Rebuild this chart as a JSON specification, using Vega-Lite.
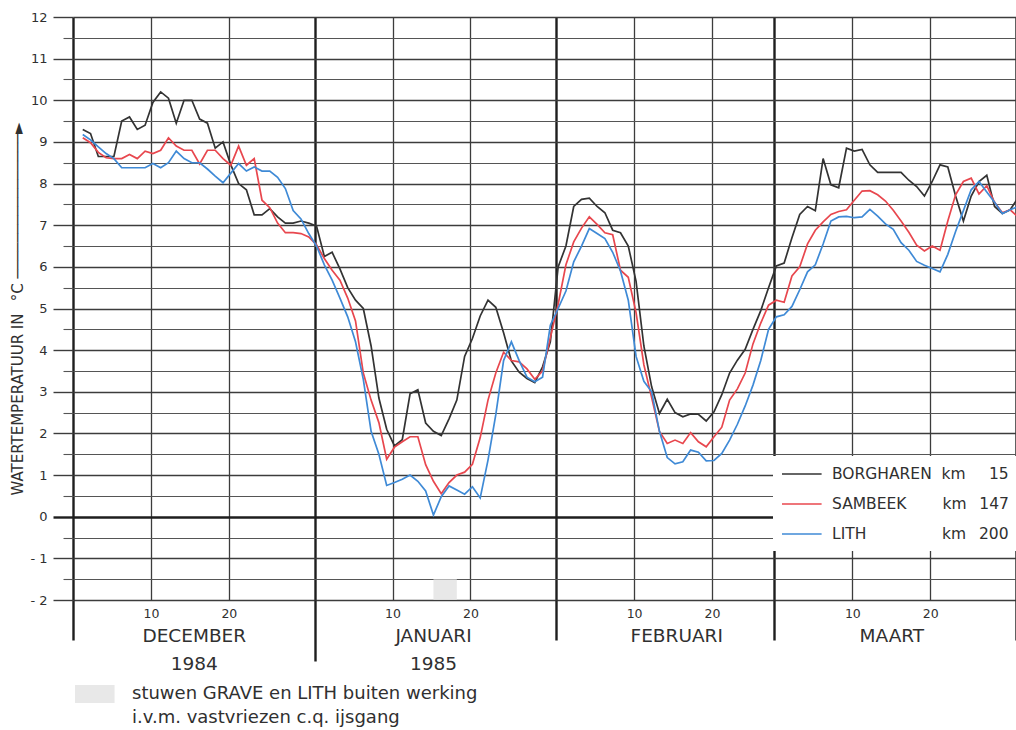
{
  "$schema": "https://vega.github.io/schema/vega-lite/v6.json",
  "width": 943,
  "height": 583,
  "autosize": {"type": "none"},
  "padding": {"left": 73, "top": 17, "right": 0, "bottom": 130},
  "background": "white",
  "config": {
    "view": {"stroke": null},
    "font": "DejaVu Sans",
    "axis": {"labelFont": "DejaVu Sans", "titleFont": "DejaVu Sans", "labelColor": "#303030", "titleColor": "#303030"},
    "legend": {"labelFont": "DejaVu Sans", "labelColor": "#303030"}
  },
  "datasets": {
    "stuw": [{"van": 46, "tot": 49, "note": "stuwen GRAVE en LITH buiten werking"}],
    "temps": [
      {"d":1,"s":"BORGHAREN","t":9.3},{"d":2,"s":"BORGHAREN","t":9.2},{"d":3,"s":"BORGHAREN","t":8.65},{"d":4,"s":"BORGHAREN","t":8.65},{"d":5,"s":"BORGHAREN","t":8.65},{"d":6,"s":"BORGHAREN","t":9.5},{"d":7,"s":"BORGHAREN","t":9.6},{"d":8,"s":"BORGHAREN","t":9.3},{"d":9,"s":"BORGHAREN","t":9.4},{"d":10,"s":"BORGHAREN","t":9.95},
      {"d":11,"s":"BORGHAREN","t":10.2},{"d":12,"s":"BORGHAREN","t":10.05},{"d":13,"s":"BORGHAREN","t":9.45},{"d":14,"s":"BORGHAREN","t":10.0},{"d":15,"s":"BORGHAREN","t":10.0},{"d":16,"s":"BORGHAREN","t":9.55},{"d":17,"s":"BORGHAREN","t":9.45},{"d":18,"s":"BORGHAREN","t":8.85},{"d":19,"s":"BORGHAREN","t":9.0},{"d":20,"s":"BORGHAREN","t":8.45},
      {"d":21,"s":"BORGHAREN","t":8.0},{"d":22,"s":"BORGHAREN","t":7.85},{"d":23,"s":"BORGHAREN","t":7.25},{"d":24,"s":"BORGHAREN","t":7.25},{"d":25,"s":"BORGHAREN","t":7.4},{"d":26,"s":"BORGHAREN","t":7.2},{"d":27,"s":"BORGHAREN","t":7.05},{"d":28,"s":"BORGHAREN","t":7.05},{"d":29,"s":"BORGHAREN","t":7.1},{"d":30,"s":"BORGHAREN","t":7.05},
      {"d":31,"s":"BORGHAREN","t":6.98},{"d":32,"s":"BORGHAREN","t":6.25},{"d":33,"s":"BORGHAREN","t":6.35},{"d":34,"s":"BORGHAREN","t":5.95},{"d":35,"s":"BORGHAREN","t":5.5},{"d":36,"s":"BORGHAREN","t":5.2},{"d":37,"s":"BORGHAREN","t":5.0},{"d":38,"s":"BORGHAREN","t":4.1},{"d":39,"s":"BORGHAREN","t":2.85},{"d":40,"s":"BORGHAREN","t":2.1},
      {"d":41,"s":"BORGHAREN","t":1.7},{"d":42,"s":"BORGHAREN","t":1.85},{"d":43,"s":"BORGHAREN","t":2.95},{"d":44,"s":"BORGHAREN","t":3.05},{"d":45,"s":"BORGHAREN","t":2.25},{"d":46,"s":"BORGHAREN","t":2.05},{"d":47,"s":"BORGHAREN","t":1.95},{"d":48,"s":"BORGHAREN","t":2.35},{"d":49,"s":"BORGHAREN","t":2.8},{"d":50,"s":"BORGHAREN","t":3.85},
      {"d":51,"s":"BORGHAREN","t":4.28},{"d":52,"s":"BORGHAREN","t":4.82},{"d":53,"s":"BORGHAREN","t":5.2},{"d":54,"s":"BORGHAREN","t":5.03},{"d":55,"s":"BORGHAREN","t":4.42},{"d":56,"s":"BORGHAREN","t":3.74},{"d":57,"s":"BORGHAREN","t":3.47},{"d":58,"s":"BORGHAREN","t":3.32},{"d":59,"s":"BORGHAREN","t":3.22},{"d":60,"s":"BORGHAREN","t":3.6},
      {"d":61,"s":"BORGHAREN","t":4.2},{"d":62,"s":"BORGHAREN","t":6.0},{"d":63,"s":"BORGHAREN","t":6.5},{"d":64,"s":"BORGHAREN","t":7.45},{"d":65,"s":"BORGHAREN","t":7.62},{"d":66,"s":"BORGHAREN","t":7.65},{"d":67,"s":"BORGHAREN","t":7.45},{"d":68,"s":"BORGHAREN","t":7.3},{"d":69,"s":"BORGHAREN","t":6.88},{"d":70,"s":"BORGHAREN","t":6.82},
      {"d":71,"s":"BORGHAREN","t":6.5},{"d":72,"s":"BORGHAREN","t":5.65},{"d":73,"s":"BORGHAREN","t":4.1},{"d":74,"s":"BORGHAREN","t":3.12},{"d":75,"s":"BORGHAREN","t":2.48},{"d":76,"s":"BORGHAREN","t":2.82},{"d":77,"s":"BORGHAREN","t":2.5},{"d":78,"s":"BORGHAREN","t":2.4},{"d":79,"s":"BORGHAREN","t":2.47},{"d":80,"s":"BORGHAREN","t":2.46},
      {"d":81,"s":"BORGHAREN","t":2.3},{"d":82,"s":"BORGHAREN","t":2.52},{"d":83,"s":"BORGHAREN","t":2.93},{"d":84,"s":"BORGHAREN","t":3.45},{"d":85,"s":"BORGHAREN","t":3.76},{"d":86,"s":"BORGHAREN","t":4.02},{"d":87,"s":"BORGHAREN","t":4.5},{"d":88,"s":"BORGHAREN","t":4.95},{"d":89,"s":"BORGHAREN","t":5.5},{"d":90,"s":"BORGHAREN","t":6.02},
      {"d":91,"s":"BORGHAREN","t":6.09},{"d":92,"s":"BORGHAREN","t":6.7},{"d":93,"s":"BORGHAREN","t":7.26},{"d":94,"s":"BORGHAREN","t":7.45},{"d":95,"s":"BORGHAREN","t":7.35},{"d":96,"s":"BORGHAREN","t":8.6},{"d":97,"s":"BORGHAREN","t":7.97},{"d":98,"s":"BORGHAREN","t":7.9},{"d":99,"s":"BORGHAREN","t":8.85},{"d":100,"s":"BORGHAREN","t":8.78},
      {"d":101,"s":"BORGHAREN","t":8.82},{"d":102,"s":"BORGHAREN","t":8.45},{"d":103,"s":"BORGHAREN","t":8.27},{"d":104,"s":"BORGHAREN","t":8.27},{"d":105,"s":"BORGHAREN","t":8.27},{"d":106,"s":"BORGHAREN","t":8.27},{"d":107,"s":"BORGHAREN","t":8.08},{"d":108,"s":"BORGHAREN","t":7.93},{"d":109,"s":"BORGHAREN","t":7.7},{"d":110,"s":"BORGHAREN","t":8.05},
      {"d":111,"s":"BORGHAREN","t":8.45},{"d":112,"s":"BORGHAREN","t":8.4},{"d":113,"s":"BORGHAREN","t":7.7},{"d":114,"s":"BORGHAREN","t":7.1},{"d":115,"s":"BORGHAREN","t":7.7},{"d":116,"s":"BORGHAREN","t":8.05},{"d":117,"s":"BORGHAREN","t":8.2},{"d":118,"s":"BORGHAREN","t":7.45},{"d":119,"s":"BORGHAREN","t":7.28},{"d":120,"s":"BORGHAREN","t":7.37},
      {"d":121,"s":"BORGHAREN","t":7.65},

      {"d":1,"s":"SAMBEEK","t":9.1},{"d":2,"s":"SAMBEEK","t":8.98},{"d":3,"s":"SAMBEEK","t":8.75},{"d":4,"s":"SAMBEEK","t":8.62},{"d":5,"s":"SAMBEEK","t":8.6},{"d":6,"s":"SAMBEEK","t":8.6},{"d":7,"s":"SAMBEEK","t":8.7},{"d":8,"s":"SAMBEEK","t":8.6},{"d":9,"s":"SAMBEEK","t":8.78},{"d":10,"s":"SAMBEEK","t":8.72},
      {"d":11,"s":"SAMBEEK","t":8.8},{"d":12,"s":"SAMBEEK","t":9.1},{"d":13,"s":"SAMBEEK","t":8.9},{"d":14,"s":"SAMBEEK","t":8.8},{"d":15,"s":"SAMBEEK","t":8.8},{"d":16,"s":"SAMBEEK","t":8.47},{"d":17,"s":"SAMBEEK","t":8.8},{"d":18,"s":"SAMBEEK","t":8.8},{"d":19,"s":"SAMBEEK","t":8.6},{"d":20,"s":"SAMBEEK","t":8.44},
      {"d":21,"s":"SAMBEEK","t":8.9},{"d":22,"s":"SAMBEEK","t":8.44},{"d":23,"s":"SAMBEEK","t":8.6},{"d":24,"s":"SAMBEEK","t":7.6},{"d":25,"s":"SAMBEEK","t":7.42},{"d":26,"s":"SAMBEEK","t":7.05},{"d":27,"s":"SAMBEEK","t":6.82},{"d":28,"s":"SAMBEEK","t":6.82},{"d":29,"s":"SAMBEEK","t":6.8},{"d":30,"s":"SAMBEEK","t":6.72},
      {"d":31,"s":"SAMBEEK","t":6.53},{"d":32,"s":"SAMBEEK","t":6.2},{"d":33,"s":"SAMBEEK","t":5.92},{"d":34,"s":"SAMBEEK","t":5.68},{"d":35,"s":"SAMBEEK","t":5.25},{"d":36,"s":"SAMBEEK","t":4.7},{"d":37,"s":"SAMBEEK","t":3.45},{"d":38,"s":"SAMBEEK","t":2.8},{"d":39,"s":"SAMBEEK","t":2.26},{"d":40,"s":"SAMBEEK","t":1.38},
      {"d":41,"s":"SAMBEEK","t":1.67},{"d":42,"s":"SAMBEEK","t":1.8},{"d":43,"s":"SAMBEEK","t":1.92},{"d":44,"s":"SAMBEEK","t":1.92},{"d":45,"s":"SAMBEEK","t":1.25},{"d":46,"s":"SAMBEEK","t":0.85},{"d":47,"s":"SAMBEEK","t":0.55},{"d":48,"s":"SAMBEEK","t":0.82},{"d":49,"s":"SAMBEEK","t":1.0},{"d":50,"s":"SAMBEEK","t":1.07},
      {"d":51,"s":"SAMBEEK","t":1.26},{"d":52,"s":"SAMBEEK","t":1.9},{"d":53,"s":"SAMBEEK","t":2.8},{"d":54,"s":"SAMBEEK","t":3.45},{"d":55,"s":"SAMBEEK","t":3.95},{"d":56,"s":"SAMBEEK","t":3.75},{"d":57,"s":"SAMBEEK","t":3.72},{"d":58,"s":"SAMBEEK","t":3.55},{"d":59,"s":"SAMBEEK","t":3.3},{"d":60,"s":"SAMBEEK","t":3.5},
      {"d":61,"s":"SAMBEEK","t":4.3},{"d":62,"s":"SAMBEEK","t":5.1},{"d":63,"s":"SAMBEEK","t":6.05},{"d":64,"s":"SAMBEEK","t":6.6},{"d":65,"s":"SAMBEEK","t":6.93},{"d":66,"s":"SAMBEEK","t":7.2},{"d":67,"s":"SAMBEEK","t":7.02},{"d":68,"s":"SAMBEEK","t":6.82},{"d":69,"s":"SAMBEEK","t":6.77},{"d":70,"s":"SAMBEEK","t":5.92},
      {"d":71,"s":"SAMBEEK","t":5.75},{"d":72,"s":"SAMBEEK","t":4.9},{"d":73,"s":"SAMBEEK","t":3.65},{"d":74,"s":"SAMBEEK","t":2.86},{"d":75,"s":"SAMBEEK","t":2.05},{"d":76,"s":"SAMBEEK","t":1.76},{"d":77,"s":"SAMBEEK","t":1.84},{"d":78,"s":"SAMBEEK","t":1.76},{"d":79,"s":"SAMBEEK","t":2.02},{"d":80,"s":"SAMBEEK","t":1.8},
      {"d":81,"s":"SAMBEEK","t":1.68},{"d":82,"s":"SAMBEEK","t":1.92},{"d":83,"s":"SAMBEEK","t":2.15},{"d":84,"s":"SAMBEEK","t":2.8},{"d":85,"s":"SAMBEEK","t":3.07},{"d":86,"s":"SAMBEEK","t":3.45},{"d":87,"s":"SAMBEEK","t":4.15},{"d":88,"s":"SAMBEEK","t":4.65},{"d":89,"s":"SAMBEEK","t":5.08},{"d":90,"s":"SAMBEEK","t":5.2},
      {"d":91,"s":"SAMBEEK","t":5.15},{"d":92,"s":"SAMBEEK","t":5.78},{"d":93,"s":"SAMBEEK","t":6.0},{"d":94,"s":"SAMBEEK","t":6.55},{"d":95,"s":"SAMBEEK","t":6.88},{"d":96,"s":"SAMBEEK","t":7.08},{"d":97,"s":"SAMBEEK","t":7.26},{"d":98,"s":"SAMBEEK","t":7.33},{"d":99,"s":"SAMBEEK","t":7.37},{"d":100,"s":"SAMBEEK","t":7.6},
      {"d":101,"s":"SAMBEEK","t":7.82},{"d":102,"s":"SAMBEEK","t":7.83},{"d":103,"s":"SAMBEEK","t":7.73},{"d":104,"s":"SAMBEEK","t":7.58},{"d":105,"s":"SAMBEEK","t":7.36},{"d":106,"s":"SAMBEEK","t":7.1},{"d":107,"s":"SAMBEEK","t":6.83},{"d":108,"s":"SAMBEEK","t":6.52},{"d":109,"s":"SAMBEEK","t":6.38},{"d":110,"s":"SAMBEEK","t":6.5},
      {"d":111,"s":"SAMBEEK","t":6.4},{"d":112,"s":"SAMBEEK","t":7.1},{"d":113,"s":"SAMBEEK","t":7.73},{"d":114,"s":"SAMBEEK","t":8.05},{"d":115,"s":"SAMBEEK","t":8.13},{"d":116,"s":"SAMBEEK","t":7.75},{"d":117,"s":"SAMBEEK","t":7.95},{"d":118,"s":"SAMBEEK","t":7.55},{"d":119,"s":"SAMBEEK","t":7.3},{"d":120,"s":"SAMBEEK","t":7.37},
      {"d":121,"s":"SAMBEEK","t":7.2},

      {"d":1,"s":"LITH","t":9.18},{"d":2,"s":"LITH","t":9.05},{"d":3,"s":"LITH","t":8.88},{"d":4,"s":"LITH","t":8.72},{"d":5,"s":"LITH","t":8.6},{"d":6,"s":"LITH","t":8.38},{"d":7,"s":"LITH","t":8.38},{"d":8,"s":"LITH","t":8.38},{"d":9,"s":"LITH","t":8.38},{"d":10,"s":"LITH","t":8.48},
      {"d":11,"s":"LITH","t":8.38},{"d":12,"s":"LITH","t":8.5},{"d":13,"s":"LITH","t":8.78},{"d":14,"s":"LITH","t":8.6},{"d":15,"s":"LITH","t":8.5},{"d":16,"s":"LITH","t":8.5},{"d":17,"s":"LITH","t":8.35},{"d":18,"s":"LITH","t":8.18},{"d":19,"s":"LITH","t":8.02},{"d":20,"s":"LITH","t":8.25},
      {"d":21,"s":"LITH","t":8.48},{"d":22,"s":"LITH","t":8.3},{"d":23,"s":"LITH","t":8.4},{"d":24,"s":"LITH","t":8.3},{"d":25,"s":"LITH","t":8.3},{"d":26,"s":"LITH","t":8.15},{"d":27,"s":"LITH","t":7.88},{"d":28,"s":"LITH","t":7.35},{"d":29,"s":"LITH","t":7.15},{"d":30,"s":"LITH","t":6.8},
      {"d":31,"s":"LITH","t":6.5},{"d":32,"s":"LITH","t":6.05},{"d":33,"s":"LITH","t":5.68},{"d":34,"s":"LITH","t":5.25},{"d":35,"s":"LITH","t":4.8},{"d":36,"s":"LITH","t":4.2},{"d":37,"s":"LITH","t":3.3},{"d":38,"s":"LITH","t":2.05},{"d":39,"s":"LITH","t":1.5},{"d":40,"s":"LITH","t":0.75},
      {"d":41,"s":"LITH","t":0.82},{"d":42,"s":"LITH","t":0.9},{"d":43,"s":"LITH","t":1.0},{"d":44,"s":"LITH","t":0.85},{"d":45,"s":"LITH","t":0.62},{"d":46,"s":"LITH","t":0.04},{"d":47,"s":"LITH","t":0.48},{"d":48,"s":"LITH","t":0.74},{"d":49,"s":"LITH","t":0.64},{"d":50,"s":"LITH","t":0.54},
      {"d":51,"s":"LITH","t":0.72},{"d":52,"s":"LITH","t":0.45},{"d":53,"s":"LITH","t":1.36},{"d":54,"s":"LITH","t":2.45},{"d":55,"s":"LITH","t":3.75},{"d":56,"s":"LITH","t":4.2},{"d":57,"s":"LITH","t":3.75},{"d":58,"s":"LITH","t":3.35},{"d":59,"s":"LITH","t":3.24},{"d":60,"s":"LITH","t":3.35},
      {"d":61,"s":"LITH","t":4.6},{"d":62,"s":"LITH","t":5.0},{"d":63,"s":"LITH","t":5.42},{"d":64,"s":"LITH","t":6.12},{"d":65,"s":"LITH","t":6.5},{"d":66,"s":"LITH","t":6.92},{"d":67,"s":"LITH","t":6.8},{"d":68,"s":"LITH","t":6.68},{"d":69,"s":"LITH","t":6.35},{"d":70,"s":"LITH","t":5.9},
      {"d":71,"s":"LITH","t":5.2},{"d":72,"s":"LITH","t":3.85},{"d":73,"s":"LITH","t":3.25},{"d":74,"s":"LITH","t":3.0},{"d":75,"s":"LITH","t":2.05},{"d":76,"s":"LITH","t":1.42},{"d":77,"s":"LITH","t":1.27},{"d":78,"s":"LITH","t":1.32},{"d":79,"s":"LITH","t":1.6},{"d":80,"s":"LITH","t":1.55},
      {"d":81,"s":"LITH","t":1.34},{"d":82,"s":"LITH","t":1.35},{"d":83,"s":"LITH","t":1.52},{"d":84,"s":"LITH","t":1.84},{"d":85,"s":"LITH","t":2.22},{"d":86,"s":"LITH","t":2.66},{"d":87,"s":"LITH","t":3.16},{"d":88,"s":"LITH","t":3.75},{"d":89,"s":"LITH","t":4.5},{"d":90,"s":"LITH","t":4.8},
      {"d":91,"s":"LITH","t":4.85},{"d":92,"s":"LITH","t":5.05},{"d":93,"s":"LITH","t":5.45},{"d":94,"s":"LITH","t":5.88},{"d":95,"s":"LITH","t":6.05},{"d":96,"s":"LITH","t":6.55},{"d":97,"s":"LITH","t":7.1},{"d":98,"s":"LITH","t":7.2},{"d":99,"s":"LITH","t":7.21},{"d":100,"s":"LITH","t":7.18},
      {"d":101,"s":"LITH","t":7.2},{"d":102,"s":"LITH","t":7.38},{"d":103,"s":"LITH","t":7.22},{"d":104,"s":"LITH","t":7.03},{"d":105,"s":"LITH","t":6.9},{"d":106,"s":"LITH","t":6.58},{"d":107,"s":"LITH","t":6.4},{"d":108,"s":"LITH","t":6.13},{"d":109,"s":"LITH","t":6.04},{"d":110,"s":"LITH","t":5.96},
      {"d":111,"s":"LITH","t":5.88},{"d":112,"s":"LITH","t":6.3},{"d":113,"s":"LITH","t":6.85},{"d":114,"s":"LITH","t":7.35},{"d":115,"s":"LITH","t":7.85},{"d":116,"s":"LITH","t":8.05},{"d":117,"s":"LITH","t":7.8},{"d":118,"s":"LITH","t":7.55},{"d":119,"s":"LITH","t":7.28},{"d":120,"s":"LITH","t":7.37},
      {"d":121,"s":"LITH","t":7.45}
    ]
  },
  "resolve": {"axis": {"x": "independent", "y": "independent"}},
  "layer": [
    {
      "data": {"name": "stuw"},
      "mark": {"type": "rect", "opacity": 0.8},
      "encoding": {
        "x": {
          "field": "van", "type": "quantitative",
          "scale": {"domain": [-0.25, 120.75], "nice": false, "zero": false},
          "axis": {
            "orient": "bottom",
            "values": [15.25, 45.95, 77.15, 104.75],
            "labelExpr": "datum.value == 15.25 ? ['DECEMBER', '1984'] : (datum.value == 45.95 ? ['JANUARI', '1985'] : (datum.value == 77.15 ? 'FEBRUARI' : 'MAART'))",
            "ticks": false, "domain": false, "grid": false,
            "labelFontSize": 18.5, "labelPadding": 26, "labelLineHeight": 28,
            "labelOverlap": false, "labelFlush": false, "labelBound": false, "labelAngle": 0,
            "title": null
          }
        },
        "x2": {"field": "tot"},
        "y": {"datum": -1.5, "type": "quantitative", "scale": {"domain": [-2, 12], "nice": false, "zero": false}, "axis": null},
        "y2": {"datum": -2},
        "fill": {
          "field": "note", "type": "nominal",
          "scale": {"range": ["#e2e2e2"]},
          "legend": {
            "orient": "none", "legendX": 2, "legendY": 668,
            "title": null, "padding": 0,
            "symbolType": "M-1,-1H3.4V1H-1Z",
            "symbolSize": 324, "symbolStrokeWidth": 0, "symbolOpacity": 0.8,
            "labelFontSize": 18, "labelOffset": 39, "labelLimit": 700,
            "labelExpr": "['stuwen GRAVE en LITH buiten werking', 'i.v.m. vastvriezen c.q. ijsgang']",
            "encode": {"labels": {"update": {"lineHeight": {"value": 24}}}}
          }
        }
      }
    },
    {
      "data": {"name": "temps"},
      "mark": {"type": "line", "strokeWidth": 1.7, "clip": true},
      "encoding": {
        "x": {
          "field": "d", "type": "quantitative",
          "scale": {"domain": [-0.25, 120.75], "nice": false, "zero": false},
          "axis": {
            "orient": "bottom",
            "values": [-0.25, 9.75, 19.75, 30.75, 40.75, 50.75, 61.75, 71.75, 81.75, 89.75, 99.75, 109.75, 120.75],
            "labelExpr": "indexof([9.75, 40.75, 71.75, 99.75], datum.value) >= 0 ? '10' : (indexof([19.75, 50.75, 81.75, 109.75], datum.value) >= 0 ? '20' : '')",
            "title": null, "domain": false, "grid": true,
            "gridColor": {"condition": {"test": "indexof([-0.25, 30.75, 61.75, 89.75, 120.75], datum.value) >= 0", "value": "#1e1e1e"}, "value": "#3c3c3c"},
            "gridWidth": {"condition": {"test": "indexof([-0.25, 30.75, 61.75, 89.75, 120.75], datum.value) >= 0", "value": 2.4}, "value": 1.3},
            "tickSize": {"condition": [{"test": "datum.value == 30.75", "value": 61}, {"test": "indexof([-0.25, 61.75, 89.75, 120.75], datum.value) >= 0", "value": 40}], "value": 0},
            "tickWidth": 2.4, "tickColor": "#1e1e1e",
            "labelFontSize": 12.5, "labelPadding": 7, "labelAngle": 0,
            "labelOverlap": false, "labelFlush": false, "labelBound": false
          }
        },
        "y": {
          "field": "t", "type": "quantitative",
          "scale": {"domain": [-2, 12], "nice": false, "zero": false},
          "axis": {
            "orient": "left",
            "values": [-2, -1.5, -1, -0.5, 0, 0.5, 1, 1.5, 2, 2.5, 3, 3.5, 4, 4.5, 5, 5.5, 6, 6.5, 7, 7.5, 8, 8.5, 9, 9.5, 10, 10.5, 11, 11.5, 12],
            "labelExpr": "datum.value % 1 != 0 ? '' : (datum.value < 0 ? '- ' + abs(datum.value) : '' + datum.value)",
            "grid": true,
            "gridColor": {"condition": [{"test": "datum.value == 0", "value": "#1e1e1e"}, {"test": "datum.value % 1 == 0", "value": "#3c3c3c"}], "value": "#555555"},
            "gridWidth": {"condition": [{"test": "datum.value == 0", "value": 2.4}, {"test": "datum.value % 1 == 0", "value": 1.4}], "value": 1.1},
            "tickSize": {"condition": {"test": "datum.value % 1 == 0", "value": 20}, "value": 10},
            "tickColor": {"condition": [{"test": "datum.value == 0", "value": "#1e1e1e"}, {"test": "datum.value % 1 == 0", "value": "#3c3c3c"}], "value": "#555555"},
            "tickWidth": {"condition": [{"test": "datum.value == 0", "value": 2.4}, {"test": "datum.value % 1 == 0", "value": 1.4}], "value": 1.1},
            "domain": false,
            "labelPadding": 6, "labelFontSize": 13,
            "labelOverlap": false, "labelFlush": false, "labelBound": false,
            "title": "WATERTEMPERATUUR IN\u2002 °C ────────────────►",
            "titleFontSize": 15, "titleFontWeight": "normal", "titlePadding": 4
          }
        },
        "stroke": {
          "field": "s", "type": "nominal",
          "scale": {"domain": ["BORGHAREN", "SAMBEEK", "LITH"], "range": ["#333333", "#e8474e", "#3f8ad6"]},
          "legend": {
            "orient": "none", "legendX": 700, "legendY": 439,
            "title": null, "fillColor": "white", "padding": 8,
            "symbolType": "M-1,0H3.4", "symbolSize": 324, "symbolStrokeWidth": 1.7,
            "labelFontSize": 15.5, "labelOffset": 31, "rowPadding": 11, "labelLimit": 400,
            "labelExpr": "datum.label == 'BORGHAREN' ? 'BORGHAREN\u2007km\u2003\u200215' : (datum.label == 'SAMBEEK' ? 'SAMBEEK\u2003\u2003\u2008km\u2002\u2004147' : 'LITH\u2003\u2003\u2003\u2003\u2007\u2005km\u2002\u2004200')"
          }
        }
      }
    }
  ]
}
